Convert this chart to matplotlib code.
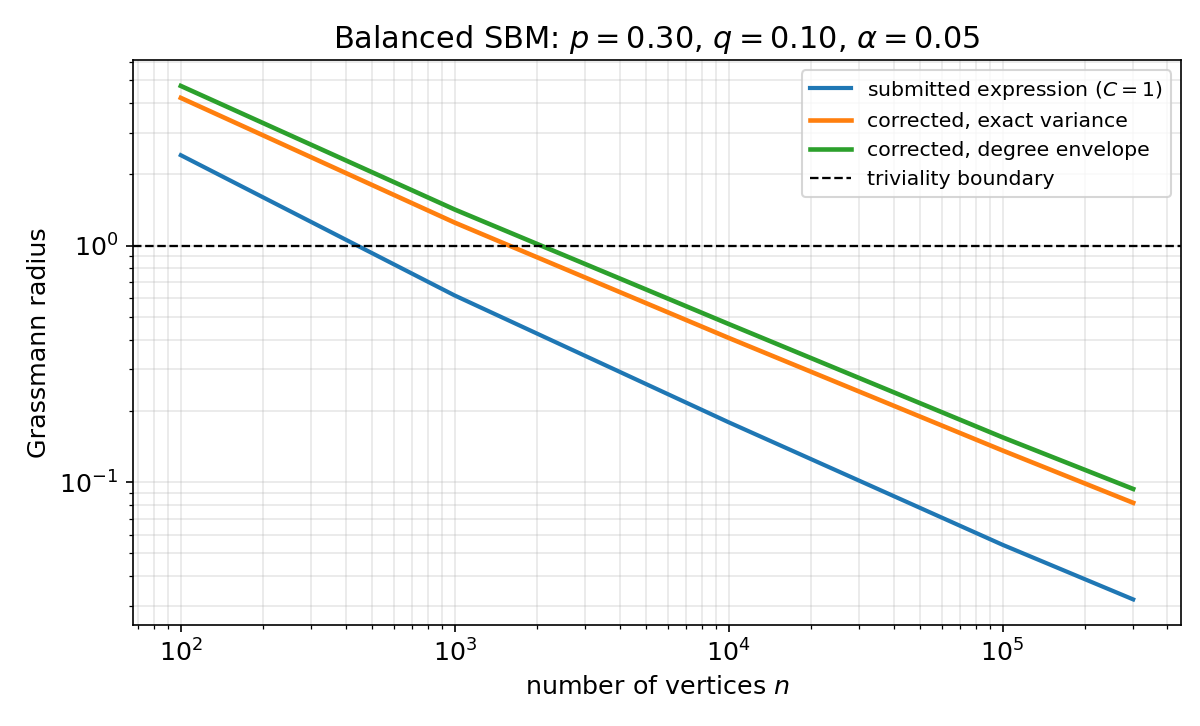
import numpy as np
import matplotlib
matplotlib.use("Agg")
import matplotlib.pyplot as plt

# values (log-log plot)
n_vals = [1e2, 1e3, 1e4, 1e5, 3e5]
submitted = [2.41, 0.615, 0.179, 0.0543, 0.0319]
exact_var = [4.21, 1.25, 0.407, 0.136, 0.0817]
deg_env = [4.73, 1.42, 0.466, 0.1546, 0.0935]

fig, ax = plt.subplots(figsize=(8, 4.84), dpi=150)

ax.loglog(n_vals, submitted, color="tab:blue", lw=2, label=r"submitted expression ($C=1$)")
ax.loglog(n_vals, exact_var, color="tab:orange", lw=2.2, label="corrected, exact variance")
ax.loglog(n_vals, deg_env, color="tab:green", lw=2.2, label="corrected, degree envelope")
ax.axhline(1.0, color="black", ls="--", lw=1.1, label="triviality boundary")

ax.grid(True, which="both", alpha=0.3)
ax.set_xlabel(r"number of vertices $n$", fontsize=12.2)
ax.set_ylabel("Grassmann radius", fontsize=12.2)
ax.set_title(r"Balanced SBM: $p=0.30$, $q=0.10$, $\alpha=0.05$", fontsize=14.6)
ax.tick_params(labelsize=12.2)
ax.legend(loc="upper right", fontsize=9.8)

plt.subplots_adjust(left=0.111, right=0.984, top=0.917, bottom=0.139)
plt.savefig("out.png", dpi=150)
